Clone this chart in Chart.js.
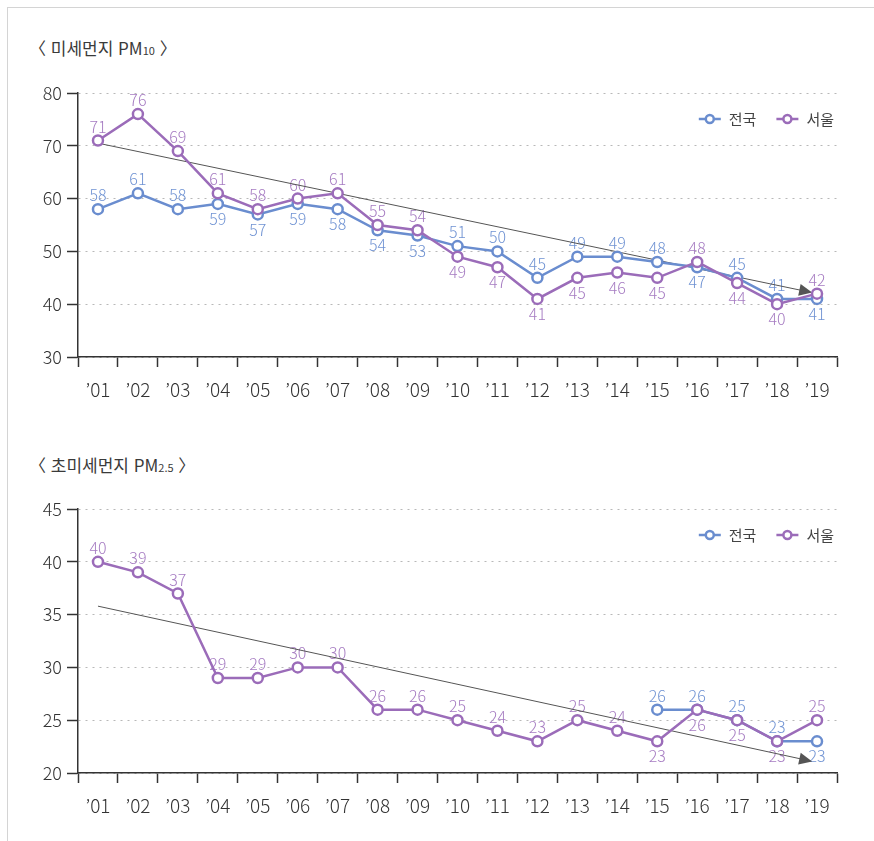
<!DOCTYPE html>
<html lang="ko">
<head>
<meta charset="utf-8">
<title>미세먼지 · 초미세먼지 연평균 농도</title>
<script src="https://cdn.jsdelivr.net/npm/chart.js@4.4.1/dist/chart.umd.min.js"></script>
<style>
  html, body { margin: 0; padding: 0; background: #fff; }
  body { width: 874px; height: 841px; position: relative; overflow: hidden;
         font-family: "Noto Sans CJK KR", "Noto Sans", sans-serif; }
  .frame { position: absolute; left: 7px; top: 7px; right: 0; bottom: 0;
           border-top: 1px solid #d4d4d4; border-left: 1px solid #d4d4d4; }
  .title { position: absolute; left: 29px; font-size: 17px; line-height: 20px; color: #3a3a3a; white-space: nowrap; }
  .title .sub { font-size: 11px; }
  .box { position: absolute; left: 0; width: 874px; height: 340px; }
</style>
</head>
<body>
<div class="frame"></div>

<div class="title" style="top:38px">〈 미세먼지 PM<span class="sub">10</span> 〉</div>
<div class="box" style="top:70px"><canvas id="pm10"></canvas></div>

<div class="title" style="top:455px">〈 초미세먼지 PM<span class="sub">2.5</span> 〉</div>
<div class="box" style="top:486px"><canvas id="pm25"></canvas></div>

<script>
// years on the x axis
const years = ["’01", "’02", "’03", "’04", "’05", "’06", "’07", "’08", "’09", "’10",
               "’11", "’12", "’13", "’14", "’15", "’16", "’17", "’18", "’19"];

// PM10 (㎍/㎥)
const pm10National = [58, 61, 58, 59, 57, 59, 58, 54, 53, 51, 50, 45, 49, 49, 48, 47, 45, 41, 41];
const pm10Seoul    = [71, 76, 69, 61, 58, 60, 61, 55, 54, 49, 47, 41, 45, 46, 45, 48, 44, 40, 42];
const pm10Trend    = [70.5, 42];          // start ('01) / end ('19)
const pm10Axis     = [30, 80, 10];        // min, max, step

// PM2.5 (㎍/㎥) - national figures only from 2015
const pm25National = [null, null, null, null, null, null, null, null, null, null,
                      null, null, null, null, 26, 26, 25, 23, 23];
const pm25Seoul    = [40, 39, 37, 29, 29, 30, 30, 26, 26, 25, 24, 23, 25, 24, 23, 26, 25, 23, 25];
const pm25Trend    = [35.8, 21];
const pm25Axis     = [20, 45, 5];

const seriesNames = ["전국", "서울"];

const BLUE = "#6a8dcf";
const PURPLE = "#9b6cb9";
const FONT = '"Noto Sans CJK KR", "Noto Sans", sans-serif';

Chart.defaults.font.family = FONT;

// value labels: above the point, or below when the other series sits just above it
const valueLabels = {
  id: "valueLabels",
  beforeDatasetsDraw(chart) {
    const ctx = chart.ctx;
    const series = chart.data.datasets
      .map((ds, i) => ({ ds, meta: chart.getDatasetMeta(i) }))
      .filter(s => !s.ds.trend);
    ctx.save();
    ctx.font = "300 16px " + FONT;
    ctx.textAlign = "center";
    ctx.textBaseline = "middle";
    series.forEach((s, si) => {
      const other = series[1 - si];
      s.meta.data.forEach((pt, i) => {
        const v = s.ds.data[i];
        if (v == null) return;
        const o = other ? other.ds.data[i] : null;
        let below = false;
        if (o != null && Math.abs(o - v) <= 6) below = o > v || (o === v && si === 1);
        ctx.fillStyle = s.ds.labelColor;
        ctx.fillText(String(v), pt.x, pt.y + (below ? 15 : -14));
      });
    });
    ctx.restore();
  }
};

// thin trend line with an arrow head
const trendArrow = {
  id: "trendArrow",
  afterDatasetDraw(chart, args) {
    const ds = chart.data.datasets[args.index];
    if (!ds.trend) return;
    const pts = args.meta.data;
    const a = pts[0], b = pts[pts.length - 1];
    const ang = Math.atan2(b.y - a.y, b.x - a.x);
    const tx = b.x - 5 * Math.cos(ang), ty = b.y - 5 * Math.sin(ang);
    const ctx = chart.ctx;
    ctx.save();
    ctx.strokeStyle = "#555";
    ctx.fillStyle = "#555";
    ctx.lineWidth = 1;
    ctx.beginPath();
    ctx.moveTo(a.x, a.y);
    ctx.lineTo(tx - 8 * Math.cos(ang), ty - 8 * Math.sin(ang));
    ctx.stroke();
    ctx.beginPath();
    ctx.moveTo(tx, ty);
    ctx.lineTo(tx - 13 * Math.cos(ang) + 6 * Math.sin(ang), ty - 13 * Math.sin(ang) - 6 * Math.cos(ang));
    ctx.lineTo(tx - 13 * Math.cos(ang) - 6 * Math.sin(ang), ty - 13 * Math.sin(ang) + 6 * Math.cos(ang));
    ctx.closePath();
    ctx.fill();
    ctx.restore();
  }
};

// legend in the top right corner of the plot
const cornerLegend = {
  id: "cornerLegend",
  afterDraw(chart) {
    const ctx = chart.ctx, area = chart.chartArea;
    const items = chart.data.datasets.filter(d => !d.trend);
    ctx.save();
    ctx.font = "15px " + FONT;
    ctx.textBaseline = "middle";
    const y = area.top + 26;
    let x = area.right - 3;
    for (let i = items.length - 1; i >= 0; i--) {
      const d = items[i];
      x -= ctx.measureText(d.label).width;
      ctx.fillStyle = "#444";
      ctx.fillText(d.label, x, y);
      x -= 8;
      ctx.strokeStyle = d.borderColor;
      ctx.lineWidth = 2.5;
      ctx.beginPath();
      ctx.moveTo(x - 22, y);
      ctx.lineTo(x, y);
      ctx.stroke();
      ctx.beginPath();
      ctx.arc(x - 11, y, 4, 0, Math.PI * 2);
      ctx.fillStyle = "#fff";
      ctx.fill();
      ctx.stroke();
      x -= 22 + 20;
    }
    ctx.restore();
  }
};

function lineSet(label, data, color, labelColor, order) {
  return {
    label, data, order, labelColor,
    borderColor: color,
    backgroundColor: "#fff",
    borderWidth: 2.5,
    pointRadius: 5,
    pointBorderWidth: 2.5,
    pointBackgroundColor: "#fff",
    pointBorderColor: color,
    tension: 0,
    spanGaps: false
  };
}

function makeChart(id, national, seoul, trend, axis) {
  const [min, max, step] = axis;
  return new Chart(document.getElementById(id), {
    type: "line",
    data: {
      labels: years,
      datasets: [
        lineSet(seriesNames[0], national, BLUE, "#7093d3", 1),
        lineSet(seriesNames[1], seoul, PURPLE, "#a67cc2", 0),
        {
          label: "trend",
          trend: true,
          order: 2,
          data: [{ x: years[0], y: trend[0] }, { x: years[years.length - 1], y: trend[1] }],
          showLine: false,
          pointRadius: 0
        }
      ]
    },
    options: {
      responsive: true,
      maintainAspectRatio: false,
      animation: false,
      layout: { padding: { top: 23, right: 37, left: 0, bottom: 0 } },
      plugins: { legend: { display: false }, tooltip: { enabled: false } },
      scales: {
        x: {
          offset: true,
          grid: { offset: true, drawOnChartArea: false, tickLength: 10, tickColor: "#333", tickWidth: 1.5 },
          border: { color: "#333", width: 1.5 },
          ticks: { color: "#333", font: { size: 19, weight: 300 }, padding: 11, maxRotation: 0, autoSkip: false },
          afterFit(s) { s.height = 53; }
        },
        y: {
          min, max,
          ticks: { stepSize: step, color: "#333", font: { size: 18, weight: 300 }, padding: 5 },
          grid: { color: "#b8b8b8", lineWidth: 1, tickLength: 11, tickColor: "#333", tickWidth: 1.5, tickBorderDash: [] },
          border: { color: "#333", width: 1.5, dash: [2, 5] },
          afterFit(s) { s.width = 78; }
        }
      }
    },
    plugins: [valueLabels, trendArrow, cornerLegend]
  });
}

makeChart("pm10", pm10National, pm10Seoul, pm10Trend, pm10Axis);
makeChart("pm25", pm25National, pm25Seoul, pm25Trend, pm25Axis);
</script>
</body>
</html>
